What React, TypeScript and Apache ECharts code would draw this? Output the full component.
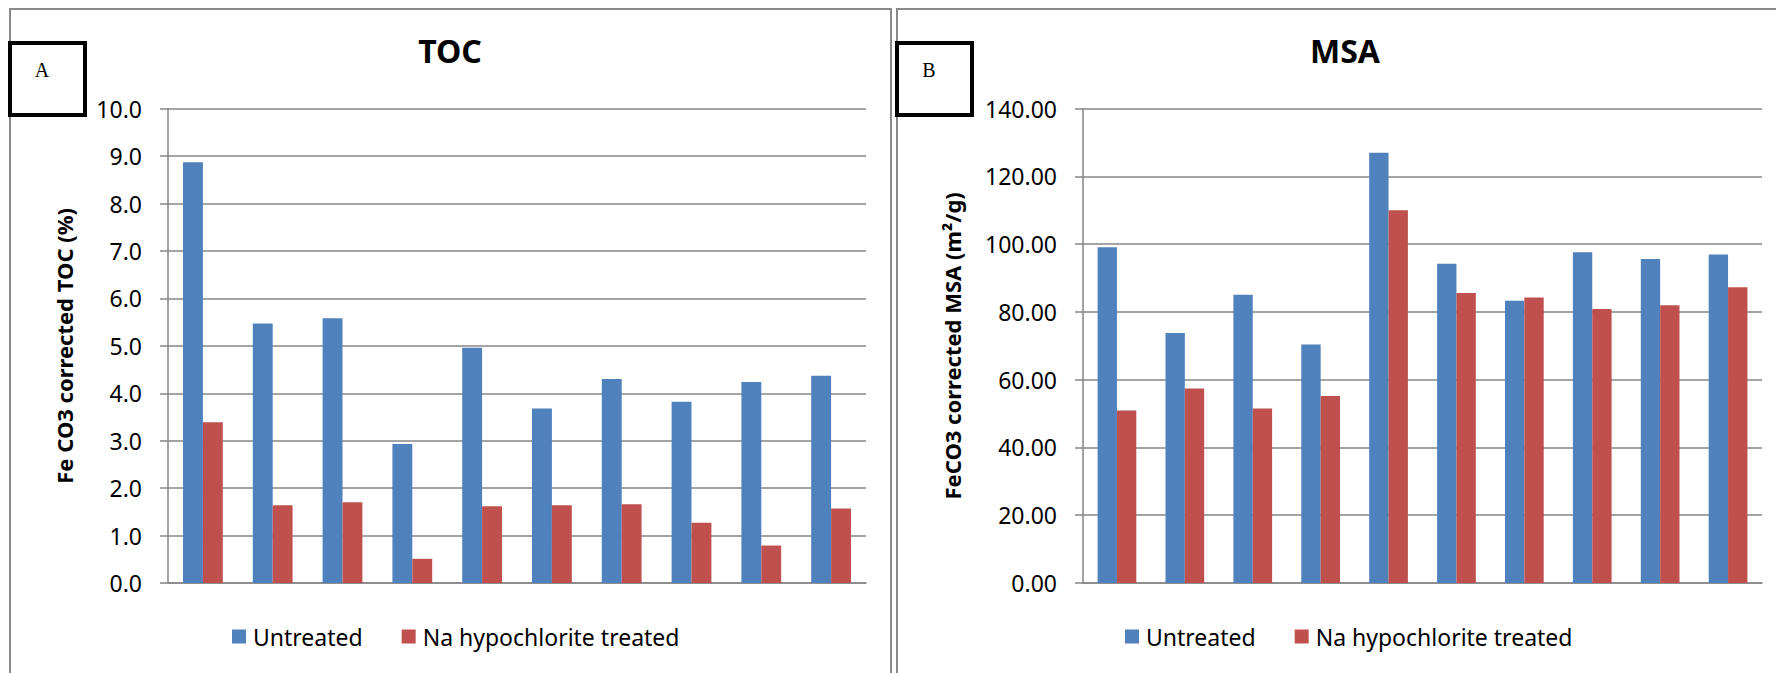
import React, { useEffect, useRef } from "react";
import * as echarts from "echarts";

// Ten samples, no category labels are drawn
const samples = ["S1", "S2", "S3", "S4", "S5", "S6", "S7", "S8", "S9", "S10"];

const seriesNames = ["Untreated", "Na hypochlorite treated"];

// Fe CO3 corrected TOC (%)
const tocUntreated = [8.87, 5.47, 5.58, 2.93, 4.96, 3.68, 4.3, 3.82, 4.24, 4.37];
const tocTreated = [3.39, 1.64, 1.7, 0.51, 1.62, 1.64, 1.66, 1.27, 0.79, 1.57];

// FeCO3 corrected MSA (m²/g)
const msaUntreated = [99.1, 73.8, 85.1, 70.4, 127.0, 94.2, 83.3, 97.6, 95.6, 97.0];
const msaTreated = [50.9, 57.4, 51.5, 55.2, 110.0, 85.6, 84.3, 80.9, 82.0, 87.3];

const BLUE = "#4F81BD";
const RED = "#C0504D";
const GRID_GRAY = "#868686";
const FONT = "Noto Sans";

function valueAxis(
  gridIndex: number,
  max: number,
  interval: number,
  decimals: number,
  name: string,
  nameGap: number
) {
  return {
    gridIndex,
    type: "value",
    min: 0,
    max,
    interval,
    name,
    nameLocation: "middle",
    nameRotate: 90,
    nameGap,
    nameTextStyle: { fontFamily: FONT, fontSize: 22, fontWeight: "bold", color: "#000" },
    axisLine: { show: true, lineStyle: { color: GRID_GRAY, width: 1.5 } },
    axisTick: { show: true, length: 8, lineStyle: { color: GRID_GRAY, width: 1.5 } },
    splitLine: { show: true, lineStyle: { color: GRID_GRAY, width: 1.5 } },
    axisLabel: {
      margin: 26,
      fontFamily: FONT,
      fontSize: 23,
      color: "#000",
      formatter: (v: number) => v.toFixed(decimals),
    },
  };
}

function categoryAxis(gridIndex: number) {
  return {
    gridIndex,
    type: "category",
    data: samples,
    axisLine: { show: true, lineStyle: { color: GRID_GRAY, width: 1.5 } },
    axisTick: { show: false },
    axisLabel: { show: false },
    splitLine: { show: false },
  };
}

function barSeries(name: string, data: number[], color: string, axisIndex: number) {
  return {
    name,
    type: "bar",
    xAxisIndex: axisIndex,
    yAxisIndex: axisIndex,
    data,
    barGap: "0%",
    barCategoryGap: "43%",
    itemStyle: { color },
  };
}

function legendAt(left: number) {
  return {
    data: seriesNames,
    left,
    top: 625,
    padding: 0,
    icon: "rect",
    itemWidth: 14,
    itemHeight: 14,
    itemGap: 39,
    textStyle: { fontFamily: FONT, fontSize: 23, color: "#000", padding: [0, 0, 0, 2] },
  };
}

function panelLetter(letter: string, boxX: number, textX: number) {
  return [
    {
      type: "rect",
      shape: { x: boxX, y: 43, width: 75, height: 72 },
      style: { fill: "#fff", stroke: "#000", lineWidth: 4 },
      z: 10,
    },
    {
      type: "text",
      x: textX,
      y: 70,
      style: {
        text: letter,
        fontFamily: "Liberation Serif",
        fontSize: 20,
        fill: "#000",
        align: "center",
        verticalAlign: "middle",
      },
      z: 11,
    },
  ];
}

export default function App() {
  const ref = useRef<HTMLDivElement>(null);

  useEffect(() => {
    document.body.style.margin = "0";
    document.body.style.overflow = "hidden";
    if (!ref.current) return;
    const chart = echarts.init(ref.current, undefined, { renderer: "svg" });
    chart.setOption({
      animation: false,
      backgroundColor: "#fff",
      title: [
        {
          text: "TOC",
          left: 450,
          top: 34,
          padding: 0,
          textAlign: "center",
          textStyle: { fontFamily: FONT, fontSize: 32, fontWeight: "bold", color: "#000" },
        },
        {
          text: "MSA",
          left: 1345,
          top: 34,
          padding: 0,
          textAlign: "center",
          textStyle: { fontFamily: FONT, fontSize: 32, fontWeight: "bold", color: "#000" },
        },
      ],
      legend: [legendAt(232), legendAt(1125)],
      grid: [
        { left: 168, top: 108.7, width: 698, height: 474.3 },
        { left: 1083, top: 108.7, width: 679, height: 474.3 },
      ],
      xAxis: [categoryAxis(0), categoryAxis(1)],
      yAxis: [
        valueAxis(0, 10, 1, 1, "Fe CO3 corrected TOC (%)", 93),
        valueAxis(1, 140, 20, 2, "FeCO3 corrected MSA (m²/g)", 120),
      ],
      series: [
        barSeries(seriesNames[0], tocUntreated, BLUE, 0),
        barSeries(seriesNames[1], tocTreated, RED, 0),
        barSeries(seriesNames[0], msaUntreated, BLUE, 1),
        barSeries(seriesNames[1], msaTreated, RED, 1),
      ],
      graphic: [
        {
          type: "rect",
          shape: { x: 10, y: 9, width: 881, height: 700 },
          style: { fill: "none", stroke: "#8a8a8a", lineWidth: 2 },
          z: 5,
        },
        {
          type: "rect",
          shape: { x: 897, y: 9, width: 900, height: 700 },
          style: { fill: "none", stroke: "#8a8a8a", lineWidth: 2 },
          z: 5,
        },
        ...panelLetter("A", 10, 42),
        ...panelLetter("B", 897, 929),
      ],
    });
    return () => chart.dispose();
  }, []);

  return <div ref={ref} style={{ width: 1776, height: 673 }} />;
}
